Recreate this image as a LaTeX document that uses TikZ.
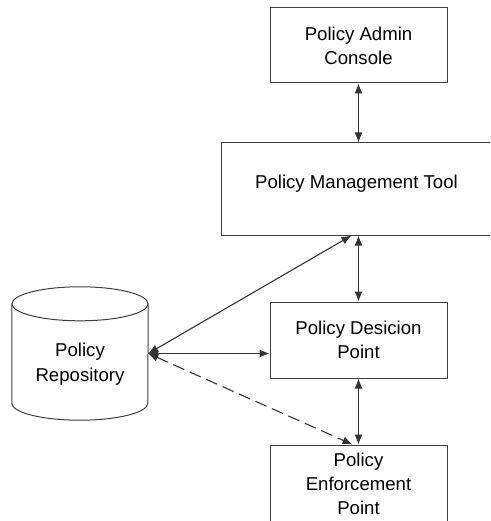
\documentclass[tikz,border=0pt]{standalone}
\usepackage{fontspec}
\setmainfont{Liberation Sans}
\usetikzlibrary{arrows.meta}
\tikzset{
	box/.style={draw=black!75, line width=1pt, align=center, minimum width=177pt,
		font=\fontsize{18.6}{24}\selectfont},
	cyl/.style={draw=black!75, line width=1pt},
	link/.style={{Latex[length=10pt,width=8pt]}-{Latex[length=10pt,width=8pt]},
		draw=black!80, line width=1.1pt},
}
\begin{document}
\begin{tikzpicture}[x=1pt,y=-1pt]
	\clip(0,0)rectangle(490,521);
	\node[box,minimum height=75pt](admin)at(358.5,45.5){Policy Admin\\Console};
	\node[box,minimum width=271pt,minimum height=92pt,text depth=14pt](tool)
		at(356.5,189){Policy Management Tool};
	\node[box,minimum height=76pt](pdp)at(358.5,340){Policy Desicion\\Point};
	\node[box,minimum height=78pt](pep)at(358.5,484){Policy\\Enforcement\\Point};
	% repository drawn as a cylinder round an empty node
	\node[minimum width=136pt,minimum height=133pt,inner sep=0pt,
		label={[align=center,font=\fontsize{18.6}{25}\selectfont,yshift=-10.5pt]center:Policy\\Repository}]
		(repo)at(80,353.5){};
	\draw[cyl]([yshift=-17pt]repo.north)ellipse[x radius=68pt,y radius=17pt];
	\draw[cyl]([yshift=-17pt]repo.north west)--([yshift=17pt]repo.south west)
		arc[start angle=180,end angle=360,x radius=68pt,y radius=17pt]
		--([yshift=-17pt]repo.north east);
	\coordinate(toolin)at([xshift=-7pt]tool.south-|pdp.north);
	\coordinate(pepin)at([xshift=-6pt]pep.north);
	\draw[link](admin.south)--(admin.south|-tool.north);
	\draw[link](tool.south-|pdp.north)--(pdp.north);
	\draw[link](pdp.south)--(pep.north);
	\draw[link](repo.east)--(toolin);
	\draw[link](repo.east)--(pdp.west|-repo.east);
	\draw[link,dashed,dash pattern=on 12pt off 6pt](repo.east)--(pepin);
\end{tikzpicture}
\end{document}
